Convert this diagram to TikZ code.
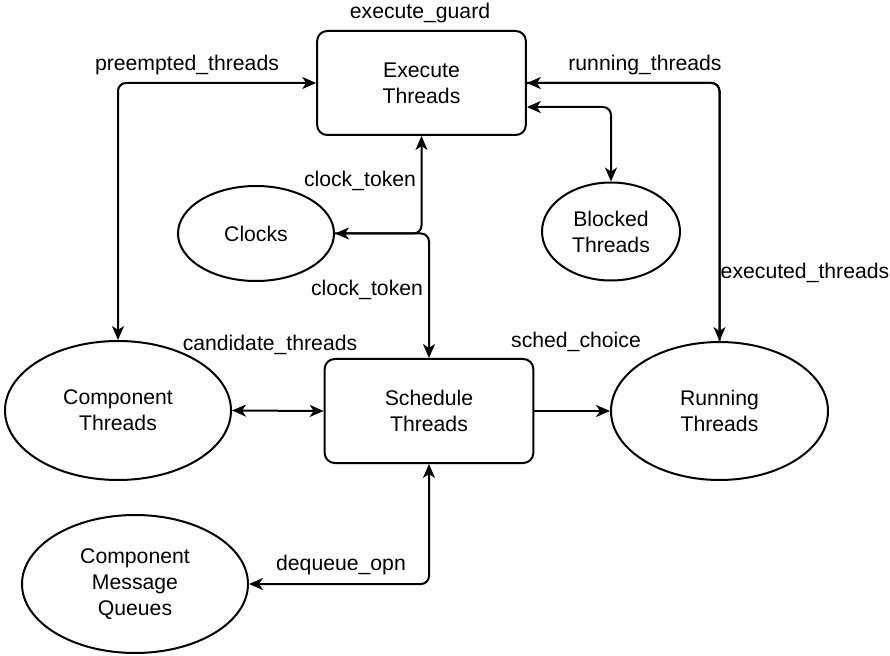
\documentclass[tikz,border=0pt]{standalone}
\usepackage{fontspec}
\setmainfont{Liberation Sans}
\usepackage{tikz}
\usetikzlibrary{arrows.meta, shapes.geometric}

\begin{document}
\begin{tikzpicture}[x=0.75pt,y=-0.75pt,line width=1.5pt,
	font=\fontsize{15.9}{19.5}\selectfont,
	>={Stealth[length=10.5pt,width=9pt,inset=3pt]},
	box/.style={draw,rounded corners=7.5pt,align=center,minimum width=156.5pt,minimum height=78pt,inner sep=0pt},
	blob/.style={draw,ellipse,align=center,inner sep=0pt},
	flow/.style={rounded corners=6pt},
	lbl/.style={inner sep=1pt}]
	\useasboundingbox(0,0)rectangle(890,656);
	\node[box](exec)at(421.5,83){Execute\\Threads};
	\node[box](sched)at(429,411){Schedule\\Threads};
	\node[blob,minimum width=117pt,minimum height=71.25pt](clk)at(256,233.5){Clocks};
	\node[blob,minimum width=103.5pt,minimum height=73.5pt](blk)at(611,231.5){Blocked\\Threads};
	\node[blob,minimum width=169.5pt,minimum height=104.25pt](comp)at(118,410.5){Component\\Threads};
	\node[blob,minimum width=162.75pt,minimum height=103.5pt](run)at(719.5,411){Running\\Threads};
	\node[blob,minimum width=169.5pt,minimum height=103.5pt](cmq)at(135,584){Component\\Message\\Queues};
	\draw[flow,<->](comp.north)|-(exec.west);
	\draw[flow,->](run.north)|-(exec.east);
	\draw[flow,->](exec.east)-|(run.north);
	\draw[flow,<->]([yshift=-18pt]exec.east)-|(blk.north);
	\draw[flow,<->](exec.south)|-(clk.east);
	\draw[flow,->](clk.east)-|(sched.north);
	\draw[<->](comp.east)--(sched.west);
	\draw[->](sched.east)--(run.west);
	\draw[flow,<->](sched.south)|-(cmq.east);
	\node[lbl](guard)at(420,13){execute\_guard};
	\node[lbl](preempt)at(187,65){preempted\_threads};
	\node[lbl](running)at(645,65){running\_threads};
	\node[lbl](executed)at(805,273){executed\_threads};
	\node[lbl](tokA)at(360,181){clock\_token};
	\node[lbl](tokB)at(367,290){clock\_token};
	\node[lbl](cand)at(270,345){candidate\_threads};
	\node[lbl](choice)at(576,342){sched\_choice};
	\node[lbl](deq)at(341,565){dequeue\_opn};
\end{tikzpicture}
\end{document}
